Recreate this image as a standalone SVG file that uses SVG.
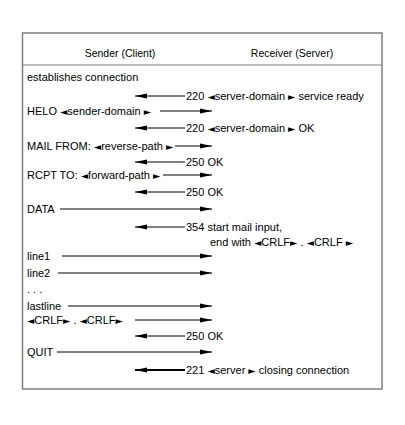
<svg xmlns="http://www.w3.org/2000/svg" width="405" height="425" viewBox="0 0 405 425">
<style>
text{font-family:"Liberation Sans",Arial,sans-serif;font-size:11px;fill:#000}
.h{font-size:10.5px}
.g{font-family:"DejaVu Sans",sans-serif;font-size:9.5px}
.ln{stroke:#000;stroke-width:1;fill:none}
.bold{stroke-width:2}
</style>
<defs>
<marker id="ah" viewBox="0 0 12 6" refX="12" refY="3" markerWidth="12" markerHeight="6" markerUnits="userSpaceOnUse" orient="auto">
<polygon points="0,0.5 12,3 0,5.5" fill="#000"/>
</marker>
</defs>
<rect x="0" y="0" width="405" height="425" fill="#fff"/>
<g id="frame">
<rect x="22.5" y="33" width="359.5" height="356" fill="none" stroke="#808080" stroke-width="1.5"/>
<line x1="22.5" y1="65" x2="382" y2="65" stroke="#808080" stroke-width="1.2"/>
</g>
<g id="sender-header"><text class="h" x="120" y="57" text-anchor="middle">Sender (Client)</text></g>
<g id="receiver-header"><text class="h" x="292" y="57" text-anchor="middle">Receiver (Server)</text></g>
<g id="messages">
<text x="27" y="81">establishes connection</text>
<text x="186" y="100">220 <tspan class="g">◄</tspan>server-domain<tspan class="g"> ►</tspan> service ready</text>
<text x="27" y="115">HELO<tspan class="g"> ◄</tspan>sender-domain<tspan class="g"> ►</tspan></text>
<text x="186" y="132">220 <tspan class="g">◄</tspan>server-domain<tspan class="g"> ►</tspan> OK</text>
<text x="27" y="150">MAIL FROM: <tspan class="g">◄</tspan>reverse-path<tspan class="g"> ►</tspan></text>
<text x="186" y="166">250  OK</text>
<text x="27" y="179">RCPT TO: <tspan class="g">◄</tspan>forward-path<tspan class="g"> ►</tspan></text>
<text x="186" y="196">250  OK</text>
<text x="27" y="213">DATA</text>
<text x="186" y="231">354 start mail input,</text>
<text x="210" y="246">end with <tspan class="g">◄</tspan>CRLF<tspan class="g">►</tspan> . <tspan class="g">◄</tspan>CRLF<tspan class="g"> ►</tspan></text>
<text x="27" y="260">line1</text>
<text x="27" y="277">line2</text>
<text x="27" y="293">. . .</text>
<text x="27" y="310">lastline</text>
<text x="27" y="324"><tspan class="g">◄</tspan>CRLF<tspan class="g">►</tspan> . <tspan class="g">◄</tspan>CRLF<tspan class="g">►</tspan></text>
<text x="186" y="340">250  OK</text>
<text x="27" y="356">QUIT</text>
<text x="186" y="374">221  <tspan class="g">◄</tspan>server<tspan class="g"> ►</tspan> closing connection</text>
</g>
<g id="connectors">
<line class="ln" x1="185" y1="96" x2="135" y2="96" marker-end="url(#ah)"/>
<line class="ln" x1="160" y1="111" x2="212" y2="111" marker-end="url(#ah)"/>
<line class="ln" x1="185" y1="128" x2="135" y2="128" marker-end="url(#ah)"/>
<line class="ln" x1="175" y1="146" x2="212" y2="146" marker-end="url(#ah)"/>
<line class="ln" x1="185" y1="162" x2="135" y2="162" marker-end="url(#ah)"/>
<line class="ln" x1="163" y1="175" x2="212" y2="175" marker-end="url(#ah)"/>
<line class="ln" x1="185" y1="192" x2="135" y2="192" marker-end="url(#ah)"/>
<line class="ln" x1="60" y1="209" x2="212" y2="209" marker-end="url(#ah)"/>
<line class="ln" x1="185" y1="227" x2="135" y2="227" marker-end="url(#ah)"/>
<line class="ln" x1="62" y1="256" x2="212" y2="256" marker-end="url(#ah)"/>
<line class="ln" x1="58" y1="273" x2="212" y2="273" marker-end="url(#ah)"/>
<line class="ln" x1="68" y1="306" x2="212" y2="306" marker-end="url(#ah)"/>
<line class="ln" x1="135" y1="320" x2="212" y2="320" marker-end="url(#ah)"/>
<line class="ln" x1="185" y1="336" x2="135" y2="336" marker-end="url(#ah)"/>
<line class="ln" x1="57" y1="352" x2="212" y2="352" marker-end="url(#ah)"/>
<line class="ln bold" x1="185" y1="370" x2="135" y2="370" marker-end="url(#ah)"/>
</g>
</svg>
